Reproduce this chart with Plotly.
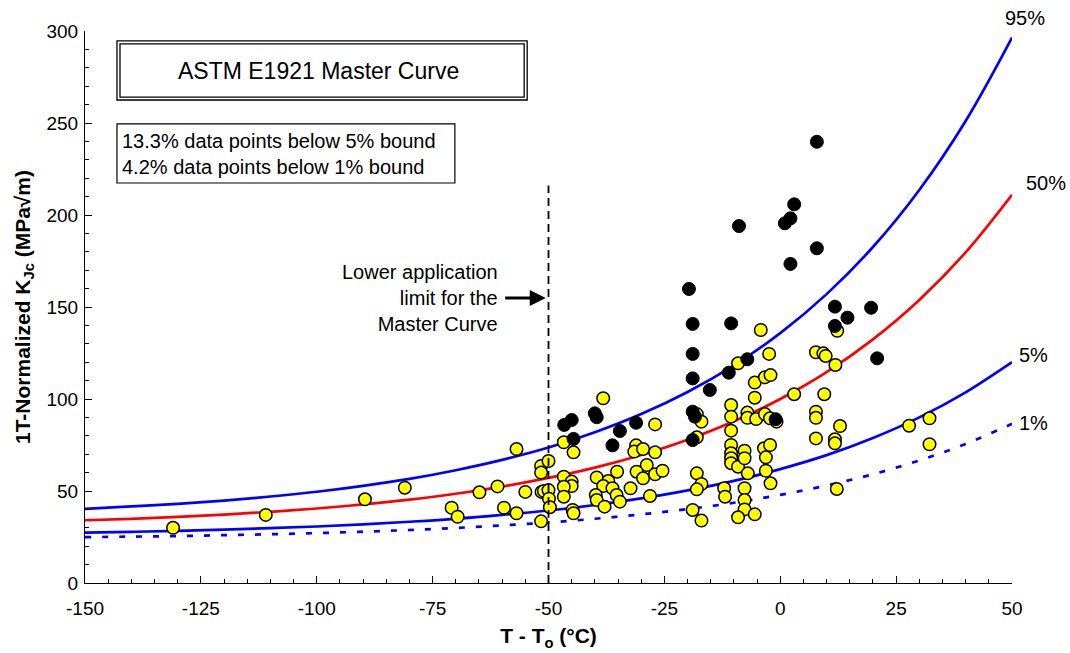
import plotly.graph_objects as go

# ---------------- data ----------------
curve_T = [-150, -140, -130, -120, -110, -100, -90, -80, -70, -60, -50,
           -40, -30, -20, -10, 0, 10, 20, 30, 40, 50]
k95 = [40.3, 41.6, 43.0, 44.8, 47.0, 49.6, 52.8, 56.6, 61.3, 66.9, 73.6,
       81.9, 91.8, 103.8, 118.3, 135.8, 157.0, 182.6, 213.6, 251.1, 296.4]
k50 = [34.1, 34.9, 35.9, 37.2, 38.7, 40.5, 42.7, 45.3, 48.5, 52.4, 57.1,
       62.7, 69.6, 77.9, 87.9, 100.0, 114.6, 132.4, 153.8, 179.7, 211.0]
k05 = [27.4, 27.8, 28.3, 29.0, 29.8, 30.7, 31.9, 33.3, 34.9, 37.0, 39.4,
       42.4, 46.0, 50.3, 55.5, 61.9, 69.5, 78.8, 90.0, 103.6, 120.0]
k01 = [24.9, 25.2, 25.5, 26.0, 26.5, 27.1, 27.9, 28.8, 29.9, 31.3, 32.9,
       34.9, 37.3, 40.2, 43.6, 47.9, 53.0, 59.1, 66.6, 75.6, 86.5]

yellow_T = [-131, -111, -89.6, -81.0, -56.9, -70.9, -69.6, -64.9, -61.0, -59.6,
            -56.9, -55.0, -51.6, -51.6, -51.6, -51.5, -51.0, -50.0, -50.0, -49.9,
            -49.7, -38.2, -27.0, -46.7, -44.6, -31.1, -31.5, -29.6, -27.0, -28.8,
            -31.0, -29.6, -27.0, -25.4, -35.2, -39.6, -37.1, -38.2, -36.2, -35.3,
            -39.8, -39.6, -34.6, -37.9, -32.3, -28.1, -46.7, -45.0, -45.0, -46.7,
            -46.7, -44.8, -44.6, -4.2, -2.4, -9.1, -5.5, -3.3, -2.1, -5.5,
            3.0, -10.6, -10.6, -10.6, -7.1, -7.1, -5.2, -3.3, -2.2, -0.8,
            -18.0, -17.0, -18.0, -10.6, -10.6, -10.6, -10.6, -9.1, -7.7, -7.7,
            -7.0, -3.5, -2.2, -3.1, -3.1, -2.1, -18.0, -17.0, -18.0, -12.1,
            -11.9, -7.7, -7.7, -7.7, -5.5, -9.1, -18.9, -17.0, 12.3, 7.7,
            9.3, 9.8, 11.9, 9.5, 7.7, 7.7, 12.9, 7.7, 11.8, 11.8,
            27.8, 32.2, 32.2, 12.2]
yellow_K = [30.0, 37.0, 45.5, 51.8, 72.8, 40.9, 36.0, 49.3, 52.5, 40.9,
            37.9, 49.5, 33.5, 63.6, 60.0, 49.5, 50.0, 50.5, 66.3, 45.8,
            41.2, 100.4, 86.2, 76.5, 71.0, 74.8, 71.4, 72.8, 71.0, 64.1,
            60.5, 56.9, 59.1, 61.0, 60.5, 57.4, 55.4, 52.7, 51.5, 47.8,
            47.8, 45.1, 44.2, 41.5, 51.5, 47.3, 57.8, 55.1, 52.7, 52.3,
            46.9, 39.7, 37.9, 137.5, 124.5, 119.4, 108.9, 111.8, 113.0, 100.7,
            102.6, 96.7, 90.4, 82.8, 92.6, 89.8, 89.1, 91.8, 89.5, 87.7,
            91.8, 87.7, 79.2, 75.0, 70.5, 67.8, 65.1, 63.2, 71.9, 67.8,
            59.6, 73.2, 75.0, 68.3, 61.0, 54.2, 59.6, 53.8, 50.9, 51.5,
            46.9, 51.5, 45.1, 40.0, 37.3, 35.7, 39.7, 33.9, 137.1, 125.4,
            124.8, 123.4, 118.5, 102.6, 93.1, 89.8, 85.3, 78.6, 78.1, 75.9,
            85.5, 89.5, 75.4, 51.1]

black_T = [-46.6, -45.0, -44.6, -40.0, -39.6, -34.6, -36.2, -31.1,
           -19.7, -18.9, -10.6, -18.9, -18.9, -15.2, -11.1, -7.1, -18.9, -18.4, -1.0, -18.9,
           7.9, 3.0, 2.2, 1.0, 7.9, 2.2, -8.9,
           11.8, 14.5, 19.6, 11.8, 20.9]
black_K = [85.9, 88.6, 78.3, 92.2, 90.1, 82.6, 74.8, 87.1,
           159.8, 140.8, 141.1, 124.5, 111.2, 104.9, 114.3, 121.6, 93.1, 90.4, 89.0, 77.7,
           239.8, 205.8, 198.2, 195.5, 181.9, 173.4, 194.0,
           150.2, 144.2, 149.6, 139.7, 122.1]

curve_labels = ["95%", "50%", "5%", "1%"]
x_ticks = [-150, -125, -100, -75, -50, -25, 0, 25, 50]
x_tick_labels = ["-150", "-125", "-100", "-75", "-50", "-25", "0", "25", "50"]
y_ticks = [0, 50, 100, 150, 200, 250, 300]
y_tick_labels = ["0", "50", "100", "150", "200", "250", "300"]
lower_limit_T = -50
lower_limit_top = 216

FONT = "Liberation Sans, Arial, sans-serif"

# plot-area geometry in pixels (for converting label pixel positions)
PL, PR, PT, PB = 85, 1012, 31, 583

fig = go.Figure()

line_w = 2.7
fig.add_trace(go.Scatter(x=curve_T, y=k01, mode="lines", line=dict(color="#0000FF", width=line_w, dash="6px,11px", shape="spline"), hoverinfo="skip"))
fig.add_trace(go.Scatter(x=curve_T, y=k05, mode="lines", line=dict(color="#0000FF", width=line_w, shape="spline"), hoverinfo="skip"))
fig.add_trace(go.Scatter(x=curve_T, y=k50, mode="lines", line=dict(color="#FF0000", width=line_w, shape="spline"), hoverinfo="skip"))
fig.add_trace(go.Scatter(x=curve_T, y=k95, mode="lines", line=dict(color="#0000FF", width=line_w, shape="spline"), hoverinfo="skip"))

fig.add_trace(go.Scatter(x=yellow_T, y=yellow_K, mode="markers",
                         marker=dict(color="#FFFF00", size=12.5, line=dict(color="#000000", width=1.5))))
fig.add_trace(go.Scatter(x=black_T, y=black_K, mode="markers",
                         marker=dict(color="#000000", size=13, line=dict(color="#000000", width=1))))

# vertical dashed line at lower application limit
fig.add_shape(type="line", x0=lower_limit_T, x1=lower_limit_T, y0=0, y1=lower_limit_top,
              xref="x", yref="y", line=dict(color="#000000", width=1.8, dash="8px,5px"))

# title box (double border)
fig.add_shape(type="rect", xref="x", yref="y", x0=-143.1, x1=-54.6, y0=262.5, y1=294.6,
              line=dict(color="#000000", width=1.3), fillcolor="white")
fig.add_shape(type="rect", xref="x", yref="y", x0=-142.45, x1=-55.25, y0=264.1, y1=293.0,
              line=dict(color="#000000", width=1.3))
fig.add_annotation(x=-99.6, y=278.5, xref="x", yref="y", text="ASTM E1921 Master Curve",
                   xanchor="center", yanchor="middle",
                   showarrow=False, font=dict(family=FONT, size=23, color="#000000"))

# stats box
fig.add_shape(type="rect", xref="x", yref="y", x0=-143.1, x1=-70.2, y0=217.4, y1=249.5,
              line=dict(color="#000000", width=1.2), fillcolor="white")
fig.add_annotation(x=-142.4, y=233.4, xref="x", yref="y", xanchor="left", yanchor="middle",
                   text="13.3% data points below 5% bound<br>4.2% data points below 1% bound",
                   align="left", showarrow=False, font=dict(family=FONT, size=20, color="#000000"))

# lower limit annotation
fig.add_annotation(x=-60.5, y=154.9, xref="x", yref="y", xanchor="right", yanchor="middle", align="right",
                   text="Lower application<br>limit for the<br>Master Curve", showarrow=False,
                   font=dict(family=FONT, size=20, color="#000000"))
fig.add_annotation(x=-50.6, y=154.9, xref="x", yref="y", ax=-42, ay=0, text="",
                   showarrow=True, arrowhead=2, arrowsize=1.0, arrowwidth=3.2, arrowcolor="#000000")

# curve labels (pixel positions converted to plot-area fractions)
label_pos = [(1025, 18), (1046, 183), (1033, 355), (1033, 423)]
for txt, (px, py) in zip(curve_labels, label_pos):
    fig.add_annotation(x=(px - PL) / (PR - PL), y=(PB - py) / (PB - PT), xref="paper", yref="paper",
                       xanchor="center", yanchor="middle", text=txt,
                       showarrow=False, font=dict(family=FONT, size=20, color="#000000"))

fig.update_layout(
    width=1070, height=653,
    margin=dict(l=PL, r=1070 - PR, t=PT, b=653 - PB),
    paper_bgcolor="white", plot_bgcolor="white",
    showlegend=False,
    font=dict(family=FONT, size=19, color="#000000"),
)

fig.update_xaxes(range=[-150, 50], tickvals=x_ticks, ticktext=x_tick_labels, ticks="inside", ticklen=7, tickwidth=1.2,
                 tickcolor="#000", showline=True, linecolor="#000", linewidth=1.2, showgrid=False,
                 zeroline=False, tickfont=dict(family=FONT, size=19), ticklabelstandoff=8, automargin=False,
                 minor=dict(ticks="inside", ticklen=4, tickcolor="#000", dtick=5, showgrid=False),
                 title=dict(text="<b>T - T<sub>o</sub> (°C)</b>", font=dict(family=FONT, size=21), standoff=10))
fig.update_yaxes(range=[0, 300], tickvals=y_ticks, ticktext=y_tick_labels, ticks="inside", ticklen=7, tickwidth=1.2,
                 tickcolor="#000", showline=True, linecolor="#000", linewidth=1.2, showgrid=False,
                 zeroline=False, tickfont=dict(family=FONT, size=19), ticklabelstandoff=2, automargin=False,
                 minor=dict(ticks="inside", ticklen=4, tickcolor="#000", dtick=10, showgrid=False),
                 title=dict(text="<b>1T-Normalized K<sub>Jc</sub> (MPa√m)</b>", font=dict(family=FONT, size=21), standoff=10))

fig.write_html("out.html")
